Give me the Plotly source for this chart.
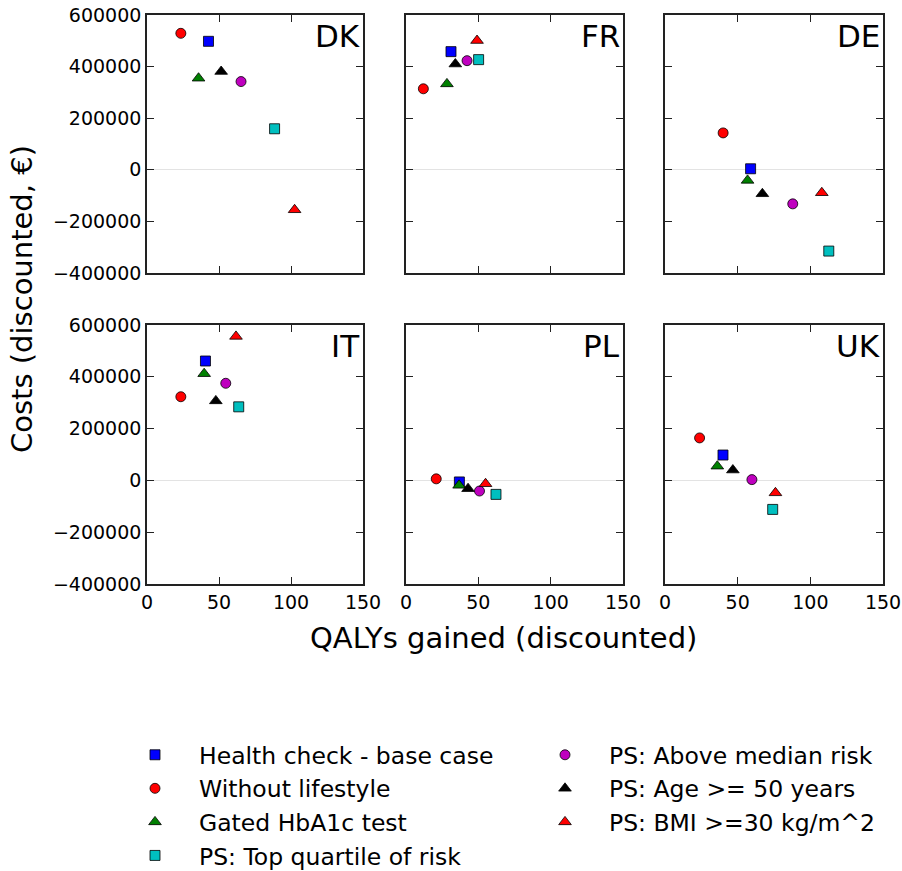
import plotly.graph_objects as go

countries = ["DK", "FR", "DE", "IT", "PL", "UK"]

series_names = [
    "Health check - base case",
    "Without lifestyle",
    "Gated HbA1c test",
    "PS: Top quartile of risk",
    "PS: Above median risk",
    "PS: Age >= 50 years",
    "PS: BMI >=30 kg/m^2",
]

# QALYs gained (discounted), per country in order DK, FR, DE, IT, PL, UK
qaly_base = [42.7, 31.1, 58.9, 40.6, 36.9, 39.9]
qaly_nolife = [23.5, 12.0, 40.0, 23.5, 20.9, 23.8]
qaly_gated = [35.8, 28.3, 56.8, 39.7, 36.7, 36.0]
qaly_topq = [88.6, 50.2, 112.7, 63.7, 62.2, 74.1]
qaly_abovemed = [65.3, 42.2, 87.9, 54.7, 50.8, 59.8]
qaly_age50 = [51.5, 34.1, 67.0, 47.8, 42.9, 46.7]
qaly_bmi30 = [102.5, 49.1, 107.9, 61.8, 55.0, 76.0]

# Costs (discounted, EUR)
cost_base = [498000, 458000, 4000, 461000, -6000, 98000]
cost_nolife = [529000, 314000, 143000, 323000, 6000, 164000]
cost_gated = [355000, 333000, -41000, 412000, -19000, 55000]
cost_topq = [159000, 427000, -315000, 284000, -54000, -112000]
cost_abovemed = [342000, 423000, -132000, 375000, -41000, 3000]
cost_age50 = [381000, 410000, -93000, 307000, -32000, 40000]
cost_bmi30 = [-155000, 501000, -89000, 556000, -13000, -48000]

x_ticks = [0, 50, 100, 150]
y_ticks = [-400000, -200000, 0, 200000, 400000, 600000]

qalys = [qaly_base, qaly_nolife, qaly_gated, qaly_topq, qaly_abovemed, qaly_age50, qaly_bmi30]
costs = [cost_base, cost_nolife, cost_gated, cost_topq, cost_abovemed, cost_age50, cost_bmi30]
symbols = ["square", "circle", "triangle-up", "square", "circle", "triangle-up", "triangle-up"]
colors = ["#0000ff", "#ff0000", "#008000", "#00bfbf", "#bf00bf", "#000000", "#ff0000"]
sizes = [10, 10, 11, 10, 10, 11, 11]
legend_ids = ["legend", "legend", "legend", "legend", "legend2", "legend2", "legend2"]

W, H = 902, 871
col_px = [(147, 363), (406, 623), (665, 883)]
row_px = [(15, 273), (325, 584)]


def px(v):
    return v / W


def py(v):
    return 1 - v / H


FONT = "DejaVu Sans"
fig = go.Figure()

for ci, country in enumerate(countries):
    r, c = divmod(ci, 3)
    idx = "" if ci == 0 else str(ci + 1)
    for si, name in enumerate(series_names):
        fig.add_trace(go.Scatter(
            x=[qalys[si][ci]], y=[costs[si][ci]],
            mode="markers", name=name,
            legendgroup=name, showlegend=(ci == 0),
            legend=legend_ids[si],
            marker=dict(symbol=symbols[si], color=colors[si], size=sizes[si],
                        line=dict(color="black", width=0.8)),
            xaxis="x" + idx, yaxis="y" + idx,
        ))
    x0, x1 = col_px[c]
    y0, y1 = row_px[r]
    common = dict(showline=True, linecolor="#222222", linewidth=1.6, mirror="ticks",
                  ticks="inside", ticklen=7, tickwidth=1.2, tickcolor="#222222",
                  showgrid=False, automargin=False, ticklabeloverflow="allow",
                  tickfont=dict(family=FONT, size=19, color="black"))
    fig.layout["xaxis" + idx] = dict(
        domain=[px(x0), px(x1)], range=[0, 150], tickvals=x_ticks,
        showticklabels=(r == 1), zeroline=False, anchor="y" + idx, **common)
    fig.layout["yaxis" + idx] = dict(
        domain=[py(y1), py(y0)], range=[-400000, 600000], tickvals=y_ticks,
        tickformat="d", showticklabels=(c == 0),
        zeroline=True, zerolinecolor="#e3e3e3", zerolinewidth=1.2,
        anchor="x" + idx, **common)
    fig.add_annotation(text=country, xref="x" + idx + " domain", yref="y" + idx + " domain",
                       x=1, y=1, xanchor="right", yanchor="top", xshift=-1, yshift=-1,
                       showarrow=False, font=dict(family=FONT, size=31, color="black"))

fig.add_annotation(text="QALYs gained (discounted)", xref="paper", yref="paper",
                   x=px(503), y=py(638), xanchor="center", yanchor="middle",
                   showarrow=False, font=dict(family=FONT, size=29, color="black"))
fig.add_annotation(text="Costs (discounted, €)", xref="paper", yref="paper",
                   x=px(22), y=py(299), xanchor="center", yanchor="middle", textangle=-90,
                   showarrow=False, font=dict(family=FONT, size=29, color="black"))

leg_common = dict(font=dict(family=FONT, size=23.5, color="black"), bgcolor="rgba(0,0,0,0)",
                  orientation="v", yanchor="top", xanchor="left", itemwidth=78,
                  tracegroupgap=0)
fig.update_layout(
    width=W, height=H, margin=dict(l=0, r=0, t=0, b=0, autoexpand=False),
    paper_bgcolor="white", plot_bgcolor="white",
    legend=dict(x=px(111), y=py(733), **leg_common),
    legend2=dict(x=px(521), y=py(733), **leg_common),
)

fig.write_html("out.html", config={"displayModeBar": False},
               post_script="document.body.style.margin='0';document.body.style.padding='0';")
